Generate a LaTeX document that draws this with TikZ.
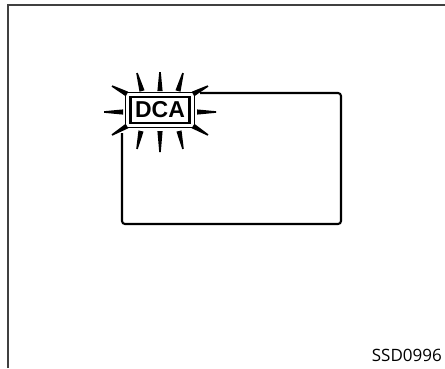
\documentclass[tikz,border=0pt]{standalone}
\usepackage{fontspec}
\setsansfont{Liberation Sans}
\newfontfamily\codefont{Open Sans}
\usetikzlibrary{positioning, calc}

\begin{document}
\begin{tikzpicture}[
    x=1pt, y=-1pt,
    frameline/.style={line width=1.8pt, black!75},
    screen/.style={draw, line width=2.1pt, rounded corners=3pt},
    dcabox/.style={draw, line width=2.4pt, fill=white, minimum width=59pt, minimum height=26pt, inner sep=0pt, font=\sffamily\bfseries\fontsize{23}{23}\selectfont},
    rimline/.style={draw, line width=1pt},
    codetag/.style={anchor=base east, inner sep=0pt, font=\codefont\fontsize{17}{17}\selectfont},
]
\useasboundingbox (0,0) rectangle (445,368);

% Page frame
\draw[frameline] (8,368) -- (8,5) -- (445,5);

% Display screen
\draw[screen] (122,93) rectangle (341,224);
\fill[white] (116,86) rectangle (200,133);

% Indicator
\node[dcabox] (dca) at (160,110) {DCA};
\draw[rimline] ($(dca.north west)+(-3.5,-3.5)$) rectangle ($(dca.south east)+(3.5,3.5)$);

% Flashing rays (outer end / inner end)
\foreach \ox/\oy/\ix/\iy in {137/73/142/91, 160/72/160/91, 183/73/178/91,
                             112/86/127/94, 208/86/193/94,
                             104/112/123/112, 216/112/197/112,
                             112/135/127/126, 208/135/193/126,
                             137/149/141/131, 160/152/160/131, 183/149/179/131}
{
  \coordinate (o) at (\ox,\oy);
  \coordinate (i) at (\ix,\iy);
  \fill ($(o)!0.8pt!90:(i)$) -- ($(o)!0.8pt!-90:(i)$)
        -- ($(i)!2.6pt!90:(o)$) -- ($(i)!2.6pt!-90:(o)$) -- cycle;
}

% Figure code
\node[codetag] (code) at (442,361) {SSD0996};

\end{tikzpicture}
\end{document}
